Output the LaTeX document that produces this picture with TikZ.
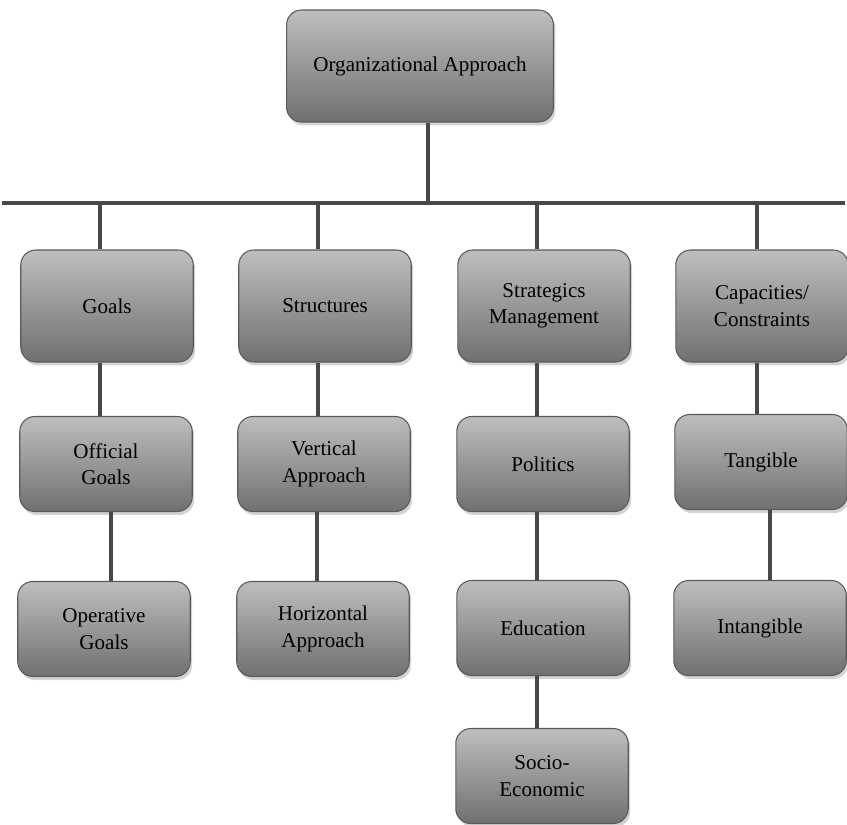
\documentclass[tikz,border=0pt]{standalone}
\usepackage{fontspec}
\setmainfont{Liberation Serif}
\usepackage{xcolor}
\definecolor{boxtop}{RGB}{190, 190, 190}
\definecolor{boxbot}{RGB}{112, 112, 112}
\definecolor{boxline}{RGB}{90, 90, 90}
\definecolor{linkgray}{RGB}{72, 72, 72}
\usepackage{tikz}
\usetikzlibrary{positioning,shadows,calc}

\begin{document}
\begin{tikzpicture}[
  x=0.02cm, y=-0.02cm,
  orgbox/.style={draw=boxline, line width=0.6pt, top color=boxtop, bottom color=boxbot, rounded corners=0.3cm, font=\fontsize{12}{15}\selectfont, align=center, minimum width=3.45cm, minimum height=1.9cm, inner sep=2pt, drop shadow={opacity=0.35, shadow xshift=0.04cm, shadow yshift=-0.07cm}},
  tallbox/.style={orgbox, minimum height=2.24cm},
  link/.style={line width=2pt, color=linkgray}
]
\useasboundingbox (0,0) rectangle (847,824);

% top of the tree
\node[tallbox, minimum width=5.34cm] (org) at (420,66) {Organizational Approach};
\coordinate (busL) at (2,203);
\coordinate (busR) at (845,203);

% first level
\node[tallbox] (goals) at (107,306) {Goals};
\node[tallbox] (struct) at (325,306) {Structures};
\node[tallbox] (strat) at (544,306) {Strategics\\Management};
\node[tallbox] (capac) at (762,306) {Capacities/\\Constraints};

% second level
\node[orgbox] (offgoals) at (106,464) {Official\\Goals};
\node[orgbox] (vertical) at (324,464) {Vertical\\Approach};
\node[orgbox] (politics) at (543,464) {Politics};
\node[orgbox] (tangible) at (761,462) {Tangible};

% third level
\node[orgbox] (opgoals) at (104,629) {Operative\\Goals};
\node[orgbox] (horizontal) at (323,629) {Horizontal\\Approach};
\node[orgbox] (education) at (543,628) {Education};
\node[orgbox] (intangible) at (760,628) {Intangible};

% fourth level
\node[orgbox] (socio) at (542,776) {Socio-\\Economic};

\draw[link] ([xshift=0.16cm]org.south) -- ([xshift=0.16cm]org.south |- busL);
\draw[link] (busL) -- (busR);
\draw[link] ([xshift=-0.14cm]goals.north) -- ([xshift=-0.14cm]goals.north |- busL);
\draw[link] ([xshift=-0.14cm]struct.north) -- ([xshift=-0.14cm]struct.north |- busL);
\draw[link] ([xshift=-0.14cm]strat.north) -- ([xshift=-0.14cm]strat.north |- busL);
\draw[link] ([xshift=-0.1cm]capac.north) -- ([xshift=-0.1cm]capac.north |- busL);

\draw[link] ([xshift=-0.14cm]goals.south) -- ([xshift=-0.14cm]goals.south |- offgoals.north);
\draw[link] ([xshift=-0.14cm]struct.south) -- ([xshift=-0.14cm]struct.south |- vertical.north);
\draw[link] ([xshift=-0.14cm]strat.south) -- ([xshift=-0.14cm]strat.south |- politics.north);
\draw[link] ([xshift=-0.1cm]capac.south) -- ([xshift=-0.1cm]capac.south |- tangible.north);

\draw[link] ([xshift=0.1cm]offgoals.south) -- ([xshift=0.1cm]offgoals.south |- opgoals.north);
\draw[link] ([xshift=-0.14cm]vertical.south) -- ([xshift=-0.14cm]vertical.south |- horizontal.north);
\draw[link] ([xshift=-0.12cm]politics.south) -- ([xshift=-0.12cm]politics.south |- education.north);
\draw[link] ([xshift=0.18cm]tangible.south) -- ([xshift=0.18cm]tangible.south |- intangible.north);

\draw[link] ([xshift=-0.12cm]education.south) -- ([xshift=-0.12cm]education.south |- socio.north);
\end{tikzpicture}
\end{document}
